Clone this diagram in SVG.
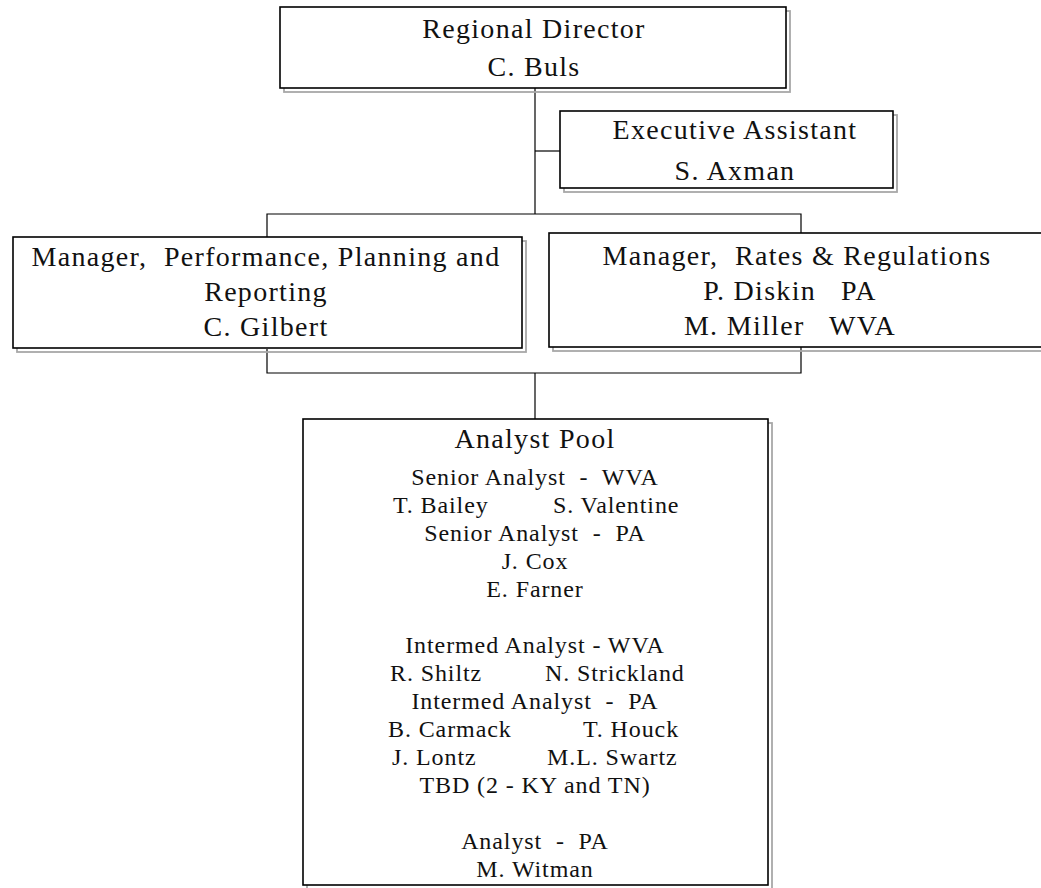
<svg xmlns="http://www.w3.org/2000/svg" width="1041" height="888" viewBox="0 0 1041 888">
  <style>
    .box{fill:#fff;stroke:#000;stroke-width:1.6}
    .shadow{fill:none;stroke:#a8a8a8;stroke-width:1.8}
    .wire{fill:none;stroke:#000;stroke-width:1.2}
    text{font-family:"Liberation Serif","Times New Roman",serif;fill:#111;white-space:pre}
    .t{font-size:28px;letter-spacing:1.3px;text-anchor:middle}
    .s{font-size:24px;letter-spacing:0.9px}
    .c{text-anchor:middle}
  </style>

  <!-- reporting lines -->
  <g id="connectors">
    <path class="wire" d="M535,88 V214"/>
    <path class="wire" d="M535,151 H560"/>
    <path class="wire" d="M267,237 V214 H801 V233"/>
    <path class="wire" d="M267,349 V373 H801 V347"/>
    <path class="wire" d="M535,373 V419"/>
  </g>

  <g id="regional-director">
    <rect class="shadow" x="284" y="11" width="506" height="81"/>
    <rect class="box" x="280" y="7" width="506" height="81"/>
    <text class="t" x="534" y="38">Regional Director</text>
    <text class="t" x="534" y="76">C. Buls</text>
  </g>

  <g id="executive-assistant">
    <rect class="shadow" x="564" y="115" width="333" height="77"/>
    <rect class="box" x="560" y="111" width="333" height="77"/>
    <text class="t" x="735" y="139">Executive Assistant</text>
    <text class="t" x="735" y="180">S. Axman</text>
  </g>

  <g id="manager-performance">
    <rect class="shadow" x="17" y="241" width="509" height="111"/>
    <rect class="box" x="13" y="237" width="509" height="111"/>
    <text class="t" x="266" y="266">Manager,  Performance, Planning and</text>
    <text class="t" x="266" y="301">Reporting</text>
    <text class="t" x="266" y="336">C. Gilbert</text>
  </g>

  <g id="manager-rates">
    <rect class="shadow" x="553" y="237" width="503" height="114"/>
    <rect class="box" x="549" y="233" width="503" height="114"/>
    <text class="t" x="797" y="265">Manager,  Rates &amp; Regulations</text>
    <text class="t" x="790" y="300">P. Diskin   PA</text>
    <text class="t" x="790" y="335">M. Miller   WVA</text>
  </g>

  <g id="analyst-pool">
    <rect class="shadow" x="307" y="423" width="465" height="466"/>
    <rect class="box" x="303" y="419" width="465" height="466"/>
    <text class="t" x="535" y="448">Analyst Pool</text>
    <text class="s c" x="535" y="485">Senior Analyst  -  WVA</text>
    <text class="s" x="393" y="513">T. Bailey</text>
    <text class="s" x="553" y="513">S. Valentine</text>
    <text class="s c" x="535" y="541">Senior Analyst  -  PA</text>
    <text class="s c" x="535" y="569">J. Cox</text>
    <text class="s c" x="535" y="597">E. Farner</text>
    <text class="s c" x="535" y="653">Intermed Analyst - WVA</text>
    <text class="s" x="390" y="681">R. Shiltz</text>
    <text class="s" x="545" y="681">N. Strickland</text>
    <text class="s c" x="535" y="709">Intermed Analyst  -  PA</text>
    <text class="s" x="388" y="737">B. Carmack</text>
    <text class="s" x="583" y="737">T. Houck</text>
    <text class="s" x="392" y="765">J. Lontz</text>
    <text class="s" x="547" y="765">M.L. Swartz</text>
    <text class="s c" x="535" y="793">TBD (2 - KY and TN)</text>
    <text class="s c" x="535" y="849">Analyst  -  PA</text>
    <text class="s c" x="535" y="877">M. Witman</text>
  </g>
</svg>
